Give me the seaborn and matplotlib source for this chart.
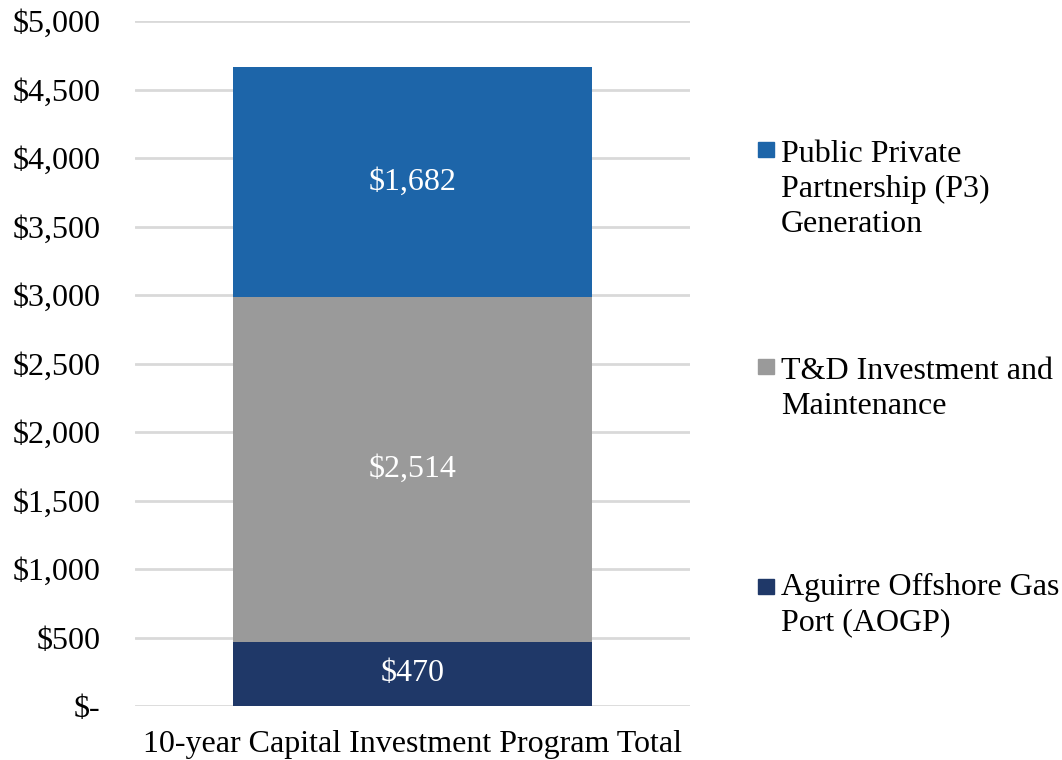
import matplotlib
matplotlib.use("Agg")
from matplotlib import pyplot as plt
from matplotlib.patches import Rectangle
from matplotlib.ticker import FuncFormatter
import pandas as pd
import seaborn as sns

category = ["10-year Capital Investment Program Total"]
segments = ["Aguirre Offshore Gas\nPort (AOGP)",
            "T&D Investment and\nMaintenance",
            "Public Private\nPartnership (P3)\nGeneration"]
values = [470, 2514, 1682]
colors = ["#1f3868", "#9a9a9a", "#1d65a9"]

sns.set_theme(style="white")
plt.rcParams["font.family"] = ["Liberation Serif", "DejaVu Serif"]
FS = 23

fig = plt.figure(figsize=(10.62, 7.6), dpi=100)
ax = fig.add_axes([0.127, 0.071, 0.523, 0.901])

bottom = 0
for seg, val, col in zip(segments, values, colors):
    df = pd.DataFrame({"cat": category, "val": [val]})
    sns.barplot(data=df, x="cat", y="val", color=col, width=0.647,
                bottom=bottom, saturation=1, ax=ax, zorder=3,
                edgecolor="none", linewidth=0)
    bottom += val

for cont in ax.containers:
    ax.bar_label(cont, labels=[f"${v:,.0f}" for v in cont.datavalues],
                 label_type="center", color="white", fontsize=FS)

ax.set_ylim(0, 5000)
ax.set_xlim(-0.5, 0.5)
ax.set_yticks(range(0, 5001, 500))
ax.yaxis.set_major_formatter(FuncFormatter(lambda v, p: "$-" if v == 0 else f"${v:,.0f}"))
ax.grid(axis="y", color="#d9d9d9", linewidth=2, zorder=0)
ax.set_axisbelow(True)
ax.tick_params(axis="y", labelsize=FS, pad=25, length=0, labelcolor="black")
ax.tick_params(axis="x", labelsize=FS, pad=17, length=0, labelcolor="black")
ax.set_xlabel("")
ax.set_ylabel("")
for s in ax.spines.values():
    s.set_visible(False)

# legend drawn by hand to match spacing
tops = [140, 357, 577]
shift = [0, 0, 4]
order = [2, 1, 0]
W, H = 1062, 760
for t, d, i in zip(tops, shift, order):
    fig.patches.append(Rectangle((758 / W, 1 - (t + 17) / H), 16 / W, 15 / H,
                                 transform=fig.transFigure, color=colors[i]))
    fig.text(781 / W, 1 - (t - d) / H, segments[i], fontsize=FS,
             va="top", ha="left", linespacing=1.27, color="black")

plt.savefig("out.png", dpi=100)
plt.close()
